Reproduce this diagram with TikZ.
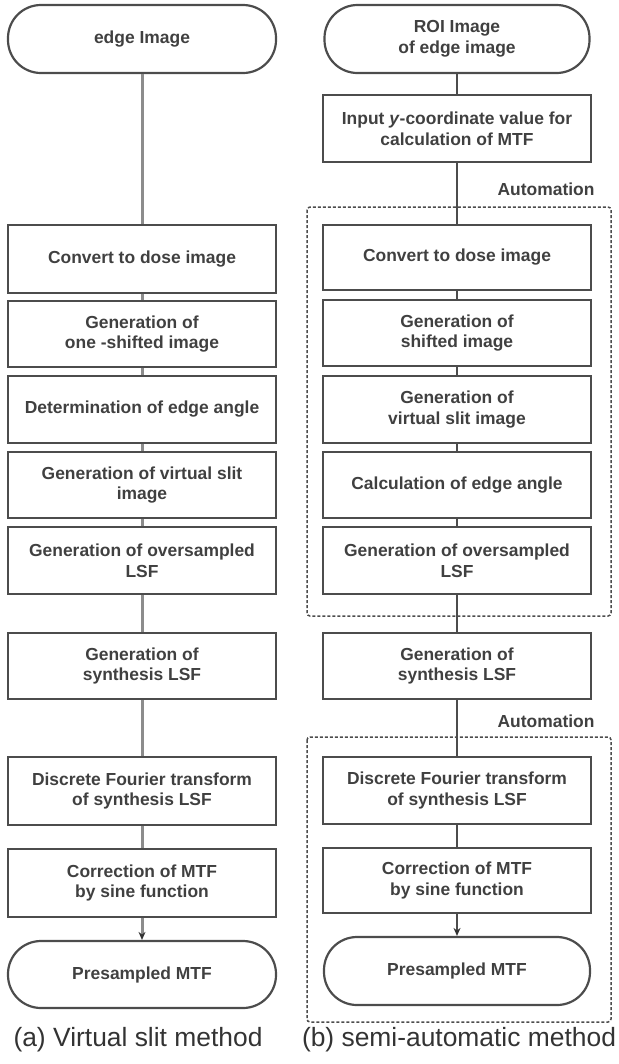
\documentclass[tikz,border=0pt]{standalone}
\usepackage{fontspec}
\setmainfont{Liberation Sans}
\usetikzlibrary{arrows.meta}

\begin{document}
\begin{tikzpicture}[x=1bp,y=-1bp,
  blk/.style={draw=black!70,line width=2.2bp,minimum width=268bp,minimum height=67bp,inner sep=0pt,align=center,text=black!75,font=\fontsize{17.5}{21}\selectfont\bfseries},
  term/.style={blk,rounded corners=33bp},
  lnA/.style={draw=black!45,line width=3bp},
  lnB/.style={draw=black!70,line width=1.8bp},
  arrtip/.style={-{Stealth[length=8bp,width=7bp,color=black!80]}},
  dashbox/.style={draw=black!70,line width=1.5bp,dash pattern=on 3bp off 2bp,rounded corners=3bp},
  lbl/.style={text=black!75,font=\fontsize{17.5}{21}\selectfont\bfseries},
  captxt/.style={text=black!80,font=\fontsize{26.5}{30}\selectfont},
]
\useasboundingbox (0,0) rectangle (619,1064);
% (a) virtual slit method
\node[term,minimum height=68bp] (edgeA) at (142,39) {edge Image};
\node[blk,minimum height=68bp] (convA) at (142,259) {Convert to dose image};
\node[blk,minimum height=66bp] (shiftA) at (142,334) {Generation of\\one -shifted image};
\node[blk] (angleA) at (142,409.5) {Determination of edge angle};
\node[blk,minimum height=66bp] (slitA) at (142,485) {Generation of virtual slit\\image};
\node[blk] (overA) at (142,560.5) {Generation of oversampled\\LSF};
\node[blk,minimum height=66bp] (synA) at (142,666) {Generation of\\synthesis LSF};
\node[blk,minimum height=68bp] (dftA) at (142,791) {Discrete Fourier transform\\of synthesis LSF};
\node[blk,minimum height=68bp] (corrA) at (142,883) {Correction of MTF\\by sine function};
\node[term] (presA) at (142,974.5) {Presampled MTF};
\draw[lnA] (edgeA) -- (convA);
\draw[lnA] (convA) -- (shiftA);
\draw[lnA] (shiftA) -- (angleA);
\draw[lnA] (angleA) -- (slitA);
\draw[lnA] (slitA) -- (overA);
\draw[lnA] (overA) -- (synA);
\draw[lnA] (synA) -- (dftA);
\draw[lnA] (dftA) -- (corrA);
\draw[lnA,arrtip] (corrA) -- (presA);
\node[captxt] (capA) at (138,1040) {(a) Virtual slit method};
% (b) semi-automatic method
\node[term,minimum width=265bp,minimum height=68bp] (roiB) at (457,39) {ROI Image\\of edge image};
\node[blk] (inputB) at (457,128.5) {Input \textit{y}-coordinate value for\\calculation of MTF};
\node[blk,minimum height=65bp] (convB) at (457,257.5) {Convert to dose image};
\node[blk,minimum height=66bp] (shiftB) at (457,333) {Generation of\\shifted image};
\node[blk] (slitB) at (457,409.5) {Generation of\\virtual slit image};
\node[blk,minimum height=66bp] (angleB) at (457,485) {Calculation of edge angle};
\node[blk] (overB) at (457,560.5) {Generation of oversampled\\LSF};
\node[blk,minimum height=66bp] (synB) at (457,666) {Generation of\\synthesis LSF};
\node[blk] (dftB) at (457,790.5) {Discrete Fourier transform\\of synthesis LSF};
\node[blk,minimum height=65bp] (corrB) at (457,880.5) {Correction of MTF\\by sine function};
\node[term,minimum width=266bp,minimum height=68bp] (presB) at (457,971) {Presampled MTF};
\draw[lnB] (roiB) -- (inputB);
\draw[lnB] (inputB) -- (convB);
\draw[lnB] (convB) -- (shiftB);
\draw[lnB] (shiftB) -- (slitB);
\draw[lnB] (slitB) -- (angleB);
\draw[lnB] (angleB) -- (overB);
\draw[lnB] (overB) -- (synB);
\draw[lnB] (synB) -- (dftB);
\draw[lnB] (dftB) -- (corrB);
\draw[lnB,arrtip] (corrB) -- (presB);
% automation frames
\draw[dashbox] (307,207) rectangle (611,616);
\node[lbl,anchor=east] (autoB1) at (598,189) {Automation};
\draw[dashbox] (307,737) rectangle (611,1022);
\node[lbl,anchor=east] (autoB2) at (598,721) {Automation};
\node[captxt] (capB) at (459,1040) {(b) semi-automatic method};
\end{tikzpicture}
\end{document}
